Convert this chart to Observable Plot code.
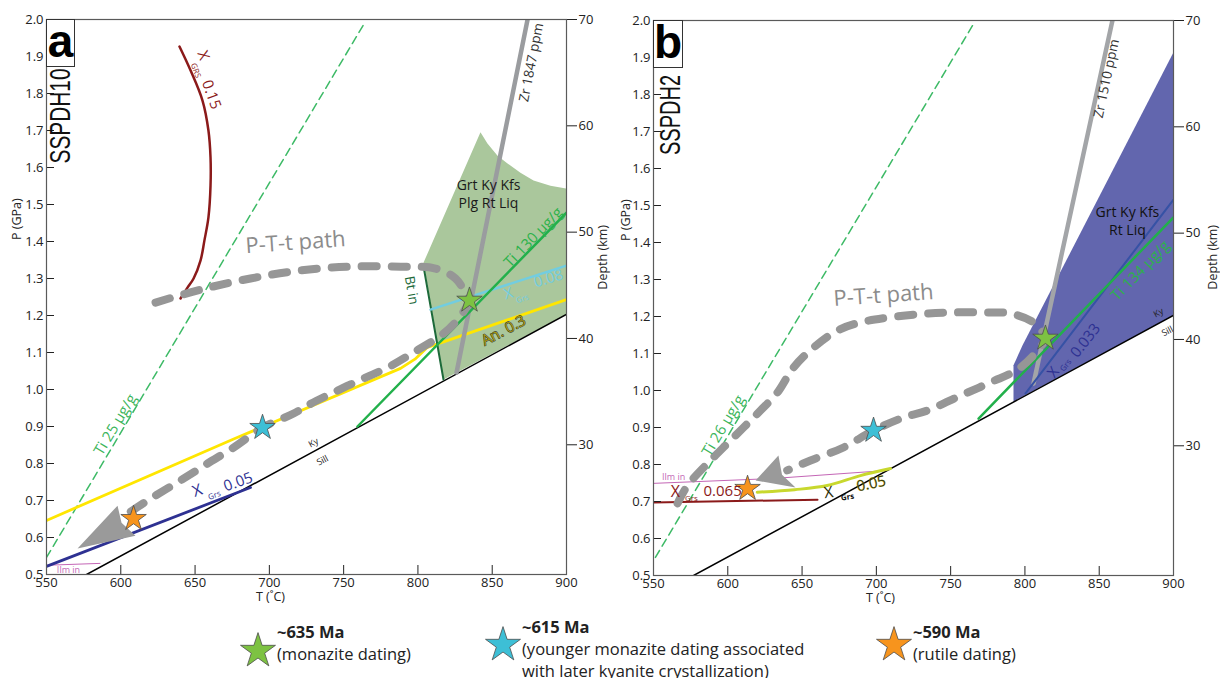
<!DOCTYPE html>
<html><head><meta charset="utf-8">
<script src="https://cdn.jsdelivr.net/npm/d3@7"></script>
<script src="https://cdn.jsdelivr.net/npm/@observablehq/plot@0.6"></script>
<style>
body{margin:0;background:#fff;font-family:"Open Sans",sans-serif;}
#wrap{position:relative;width:1220px;height:678px;overflow:hidden;background:#fff;}
.panel{position:absolute;top:0;}
.lbl{position:absolute;border:1px solid #333;background:#fff;box-sizing:border-box;}
.lbl span{position:absolute;left:0;right:0;top:-2px;text-align:center;font-family:"Liberation Sans",Arial,sans-serif;font-weight:bold;font-size:46px;line-height:1;color:#000;}
.name{position:absolute;font-family:"Liberation Sans",Arial,sans-serif;font-size:29px;line-height:1;color:#111;white-space:nowrap;transform-origin:50% 50%;}
.leg{position:absolute;font-family:"Open Sans",sans-serif;font-size:16.5px;line-height:22px;color:#222;white-space:nowrap;}
.leg b{font-weight:700;}
.star{position:absolute;}
</style></head>
<body><div id="wrap">
<div id="pa" class="panel" style="left:0"></div>
<div id="pb" class="panel" style="left:607px"></div>
<div class="lbl" style="left:46px;top:19px;width:29px;height:48px"><span>a</span></div>
<div class="lbl" style="left:653px;top:20px;width:30px;height:48px"><span>b</span></div>
<div id="names"></div>
<div id="legend"></div>
</div>
<script>
// ---------- axis ticks ----------
const pTicks = [0.5,0.6,0.7,0.8,0.9,1.0,1.1,1.2,1.3,1.4,1.5,1.6,1.7,1.8,1.9,2.0];
const tTicks = [550,600,650,700,750,800,850,900];
const depthTicks = [30,40,50,60,70];
const depthPerGPa = 34.8, depthOffset = 0.4; // depth(km) = 34.8*P + 0.4

// ---------- panel a (SSPDH10) ----------
const aKySill = [[577,0.5],[900,1.203]];
const aTi25 = [[550,0.546],[763.4,1.986]];
const aAn03 = [[550,0.646],[676,0.866],[788.3,1.057],[798,1.082],[806.4,1.114],[813.8,1.124],[900,1.243]];
const aXgrs015 = [[639.5,1.927],[647,1.862],[655,1.781],[659,1.70],[660.4,1.627],[660.4,1.551],[659,1.465],[656.3,1.403],[653.7,1.349],[649,1.30],[645,1.276],[640.2,1.246]];
const aXgrs005 = [[550,0.522],[687.3,0.735]];
const aIlmIn = [[550,0.525],[586,0.530]];
const aBtIn = [[803.8,1.332],[817.2,1.027]];
const aZr = [[873.8,2.0],[826,1.046]];
const aTi130 = [[759.3,0.9],[900,1.478]];
const aXgrs008 = [[808.5,1.216],[900,1.335]];
const aField = [[817.2,1.027],[803.8,1.343],[842.1,1.695],[846.8,1.665],[853.6,1.632],[860.3,1.611],[869,1.586],[877.8,1.565],[889.2,1.551],[900,1.543],[900,1.203]];
const aPath = [[623.4,1.235],[653.7,1.270],[687.3,1.300],[721,1.322],[754.6,1.332],[788.3,1.332],[811.8,1.327],[825.3,1.30],[832.7,1.254],[834.2,1.238],[827.3,1.192],[817.2,1.151],[797,1.10],[779.5,1.059],[763.4,1.030],[743.2,0.992],[725.7,0.957],[716.3,0.935],[695.4,0.897],[675.9,0.843],[658.4,0.800],[640.2,0.754],[618,0.70],[606,0.668]];
const aArrow = [[597.8,0.686],[570.9,0.570],[609.9,0.605],[600.5,0.640]];
const aStarGreen = [834.7,1.241], aStarBlue = [695.4,0.897], aStarOrange = [608.6,0.651];

// ---------- panel b (SSPDH2) ----------
const bKySill = [[577,0.5],[900,1.203]];
const bTi26 = [[551.3,0.549],[764.7,1.986]];
const bIlmIn = [[550,0.749],[630,0.762],[707.5,0.784]];
const bXgrs065 = [[550,0.697],[660.4,0.705]];
const bXgrs005 = [[619.8,0.725],[645,0.732],[666.9,0.743],[689.3,0.770],[709.5,0.789]];
const bZr = [[858.9,2.0],[805.8,1.019]];
const bTi134 = [[768.8,0.924],[900,1.468]];
const bXgrs033 = [[800.4,0.992],[900,1.516]];
const bField = [[792.3,0.970],[792.3,1.068],[798.4,1.122],[900,1.914],[900,1.203]];
const bPath = [[566.2,0.695],[572.9,0.743],[588.4,0.811],[599.8,0.857],[610.6,0.900],[622,0.946],[633.5,0.995],[644.2,1.062],[657.7,1.116],[673.8,1.162],[689.3,1.184],[707.5,1.197],[734.4,1.208],[751.9,1.211],[772.1,1.211],[790.3,1.208],[805.8,1.184],[812.5,1.154],[813.8,1.141],[797,1.062],[776.8,1.022],[756.6,0.986],[734.4,0.946],[718.3,0.927],[698.1,0.892],[677.9,0.846],[655.7,0.811],[640,0.784]];
const bArrow = [[634.1,0.824],[618.7,0.757],[645.6,0.738],[636.5,0.772]];
const bStarGreen = [813.8,1.141], bStarBlue = [698.1,0.892], bStarOrange = [613.3,0.735];

// ---------- colours ----------
const C = {
  green:"#22b04b", greenDash:"#3dba66", darkGreen:"#1d6a3a", red:"#8b1a1a", navy:"#2e3192",
  yellow:"#ffe600", cyan:"#72cde0", gray:"#9a9c9f", path:"#969696", magenta:"#c466b6",
  fieldA:"#aac79c", fieldB:"#6266ae", blueLine:"#3652a5", yg:"#c8d82e",
  starG:"#7dc242", starB:"#3dbfd6", starO:"#f7941d"
};

// ---------- labels (text, T, P, style) ----------
const aLabels = [
  {text:"P-T-t path", T:717.6, P:1.397, size:22, color:"#8c8c8c", rotate:-4},
  {text:"Ti 25 µg/g", T:596.4, P:0.905, size:15, color:"#3cb55a", rotate:-59},
  {text:"X", T:655.5, P:1.903, size:15, color:C.red, rotate:70},
  {text:"GRS", T:650.5, P:1.862, size:8, color:C.red, rotate:70},
  {text:"0.15", T:661, P:1.797, size:15, color:C.red, rotate:70},
  {text:"X", T:651.6, P:0.727, size:16, color:C.navy, rotate:-20},
  {text:"Grs", T:663, P:0.714, size:8, color:C.navy, rotate:-20},
  {text:"0.05", T:679, P:0.750, size:15, color:C.navy, rotate:-20},
  {text:"Ilm in", T:564.8, P:0.513, size:9, color:C.magenta, rotate:0},
  {text:"Ky", T:729.7, P:0.856, size:9, color:"#222", rotate:-28},
  {text:"Sill", T:735.8, P:0.808, size:9, color:"#222", rotate:-28},
  {text:"Bt in", T:795.7, P:1.268, size:13.5, color:C.darkGreen, rotate:80},
  {text:"Zr 1847 ppm", T:876.4, P:1.884, size:13.5, color:"#333", rotate:-79},
  {text:"Grt Ky Kfs", T:847.5, P:1.551, size:14, color:"#1a1a1a", rotate:0},
  {text:"Plg Rt Liq", T:847.5, P:1.503, size:14, color:"#1a1a1a", rotate:0},
  {text:"Ti 130 µg/g", T:877.8, P:1.411, size:15, color:"#2cb24a", rotate:-46},
  {text:"X", T:861, P:1.259, size:15, color:C.cyan, rotate:-17},
  {text:"Grs", T:870.4, P:1.245, size:8, color:C.cyan, rotate:-17},
  {text:"0.08", T:887.9, P:1.300, size:15, color:C.cyan, rotate:-17},
  {text:"An. 0.3", T:857.6, P:1.159, size:15, color:"#a89a10", stroke:"#1a1a1a", sw:0.8, rotate:-28}
];
const bLabels = [
  {text:"P-T-t path", T:704.8, P:1.257, size:22, color:"#8c8c8c", rotate:-4},
  {text:"Ti 26 µg/g", T:597.1, P:0.905, size:15, color:"#3cb55a", rotate:-59},
  {text:"Ilm in", T:563.5, P:0.765, size:9, color:C.magenta, rotate:0},
  {text:"X", T:564.8, P:0.726, size:16, color:C.red, rotate:0},
  {text:"Grs", T:575.5, P:0.708, size:8, color:C.red, rotate:0},
  {text:"0.065", T:596.5, P:0.728, size:15, color:C.red, rotate:0},
  {text:"X", T:667.8, P:0.724, size:16, color:"#2e2e08", rotate:-8},
  {text:"Grs", T:680.6, P:0.712, size:8, color:"#111", rotate:-8, weight:"bold"},
  {text:"0.05", T:696.5, P:0.748, size:15, color:"#3a3a0a", stroke:"#d8d000", sw:0.4, rotate:-12},
  {text:"Ky", T:889.9, P:1.210, size:9, color:"#222", rotate:-28},
  {text:"Sill", T:896, P:1.160, size:9, color:"#222", rotate:-28},
  {text:"Zr 1510 ppm", T:854.9, P:1.843, size:13.5, color:"#333", rotate:-78},
  {text:"Grt Ky Kfs", T:869, P:1.481, size:14, color:"#111", rotate:0},
  {text:"Rt Liq", T:869, P:1.432, size:14, color:"#111", rotate:0},
  {text:"Ti 134 µg/g", T:877.8, P:1.324, size:15, color:"#2cb24a", rotate:-46},
  {text:"X", T:819.2, P:1.049, size:15, color:C.navy, rotate:-52},
  {text:"Grs", T:827.5, P:1.068, size:8, color:C.navy, rotate:-52},
  {text:"0.033", T:840.8, P:1.135, size:15, color:C.navy, rotate:-52}
];

const FONT = "Open Sans, sans-serif";
const X = d => d[0], Y = d => d[1];

function labelMarks(list){
  return list.map(a => Plot.text([a], {
    x:"T", y:"P", text:"text", rotate:a.rotate, fontSize:a.size, fill:a.color,
    stroke:a.stroke, strokeWidth:a.sw, fontWeight:a.weight || "normal", fontFamily:FONT
  }));
}
function line(data, stroke, w, extra){ return Plot.line(data, Object.assign({x:X, y:Y, stroke, strokeWidth:w, clip:true}, extra||{})); }
function poly(data, fill){ return Plot.line(data, {x:X, y:Y, fill, stroke:"none", clip:true}); }
function star(p, fill){ return Plot.dot([p], {x:X, y:Y, symbol:"star", r:8, fill, stroke:"#4d4d4d", strokeWidth:0.8}); }

function axes(){
  return [
    Plot.axisY({ticks:pTicks, tickSize:8, dx:8, tickPadding:3, tickFormat:d3.format(".1f"), label:null, fontSize:13, color:"#222"}),
    Plot.axisY({anchor:"right", ticks:depthTicks.map(d => (d - depthOffset)/depthPerGPa), tickFormat:p => String(Math.round(p*depthPerGPa + depthOffset)), tickSize:10, tickPadding:2, label:null, fontSize:13, color:"#222"}),
    Plot.axisX({ticks:tTicks, tickSize:9, dy:-9, tickPadding:3, label:null, fontSize:13, color:"#222"}),
    Plot.frame({stroke:"#5a5a5a", strokeWidth:1.2})
  ];
}

function panel(cfg){
  return Plot.plot({
    width:607, height:610, marginTop:cfg.top, marginBottom:610-cfg.bottom, marginLeft:46, marginRight:41,
    x:{domain:[550,900]}, y:{domain:[0.5,2.0]},
    style:{fontFamily:FONT, fontSize:"13px", color:"#222", background:"transparent", overflow:"visible"},
    marks:[
      ...cfg.layers,
      ...axes(),
      Plot.text(["P (GPa)"], {frameAnchor:"left", dx:cfg.pLab[0], dy:cfg.pLab[1], rotate:-90, fontSize:12.5, fill:"#222"}),
      Plot.text(["Depth (km)"], {frameAnchor:"right", dx:cfg.dLab[0], dy:cfg.dLab[1], rotate:-90, fontSize:12.5, fill:"#222"}),
      Plot.text(["T (˚C)"], {frameAnchor:"bottom", dx:cfg.tLab[0], dy:cfg.tLab[1], fontSize:12.5, fill:"#222"})
    ]
  });
}

const plotA = panel({
  top:19, bottom:574, pLab:[-30,-57], dLab:[36,-72], tLab:[-36,26],
  layers:[
    poly(aField, C.fieldA),
    line(aIlmIn, C.magenta, 1),
    line(aKySill, "#000", 1.5),
    line(aTi25, C.greenDash, 1.5, {strokeDasharray:"8,5"}),
    line(aXgrs015, C.red, 2.5, {curve:"catmull-rom"}),
    line(aAn03, C.yellow, 2.8),
    line(aXgrs005, C.navy, 2.8),
    line(aBtIn, C.darkGreen, 2),
    line(aXgrs008, C.cyan, 2.5),
    line(aZr, C.gray, 4.5),
    line(aTi130, C.green, 2.5),
    line(aPath, C.path, 8, {curve:"catmull-rom", strokeDasharray:"15,15", strokeLinecap:"round"}),
    poly(aArrow, "#9a9a9a"),
    star(aStarGreen, C.starG), star(aStarBlue, C.starB), star(aStarOrange, C.starO),
    ...labelMarks(aLabels)
  ]
});
const plotB = panel({
  top:20, bottom:575, pLab:[-28,-57], dLab:[39,-73], tLab:[-33,26],
  layers:[
    poly(bField, C.fieldB),
    line(bIlmIn, C.magenta, 1),
    line(bKySill, "#000", 1.5),
    line(bTi26, C.greenDash, 1.5, {strokeDasharray:"8,5"}),
    line(bXgrs065, C.red, 2),
    line(bXgrs005, C.yg, 3, {curve:"catmull-rom"}),
    line(bZr, "#a3a5a8", 4.5),
    line(bXgrs033, C.blueLine, 2),
    line(bTi134, C.green, 2.5),
    line(bPath, C.path, 8, {curve:"catmull-rom", strokeDasharray:"15,15", strokeLinecap:"round"}),
    poly(bArrow, "#9a9a9a"),
    star(bStarGreen, C.starG), star(bStarBlue, C.starB), star(bStarOrange, C.starO),
    ...labelMarks(bLabels)
  ]
});
document.getElementById("pa").appendChild(plotA);
document.getElementById("pb").appendChild(plotB);

// ---------- sample names (rotated, condensed) ----------
const sampleNames = [
  {text:"SSPDH10", cx:60, cy:116, len:95},
  {text:"SSPDH2", cx:670, cy:115, len:80}
];
const names = d3.select("#names");
sampleNames.forEach(n => {
  const el = names.append("div").attr("class","name").text(n.text)
    .style("left", n.cx+"px").style("top", n.cy+"px");
  const w = el.node().getBoundingClientRect().width;
  const k = n.len / w;
  el.style("transform", `translate(-50%,-50%) rotate(-90deg) scaleX(${k})`);
});

// ---------- legend ----------
const legendItems = [
  {color:C.starG, title:"~635 Ma", lines:["(monazite dating)"], star:[258,650], text:[277,621]},
  {color:C.starB, title:"~615 Ma", lines:["(younger monazite dating associated","with later kyanite crystallization)"], star:[503,644], text:[522,616]},
  {color:C.starO, title:"~590 Ma", lines:["(rutile dating)"], star:[894,644], text:[913,621]}
];
const starPath = d3.symbol(d3.symbolStar, 380)();
const leg = d3.select("#legend");
legendItems.forEach(it => {
  const s = leg.append("svg").attr("class","star").attr("width",44).attr("height",44)
    .style("left",(it.star[0]-22)+"px").style("top",(it.star[1]-22)+"px");
  s.append("path").attr("d",starPath).attr("transform","translate(22,23)")
    .attr("fill",it.color).attr("stroke","#4d4d4d").attr("stroke-width",0.8);
  const div = leg.append("div").attr("class","leg").style("left",it.text[0]+"px").style("top",it.text[1]+"px");
  div.append("b").text(it.title);
  it.lines.forEach(l => { div.append("br"); div.append("span").text(l); });
});
</script></body></html>
